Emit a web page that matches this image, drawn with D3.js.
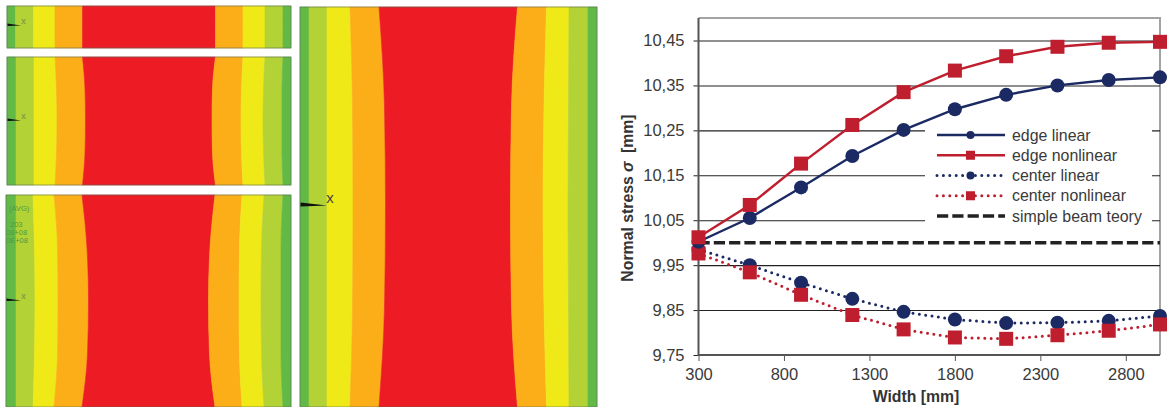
<!DOCTYPE html>
<html><head><meta charset="utf-8">
<script src="https://cdn.jsdelivr.net/npm/d3@7/dist/d3.min.js"></script>
<style>html,body{margin:0;background:#fff;overflow:hidden}svg{display:block}text{font-family:"Liberation Sans",Arial,sans-serif}</style>
</head><body><svg id="c" width="1168" height="407"></svg>
<script>
// chart data
const widths=[300,600,900,1200,1500,1800,2100,2400,2700,3000];
const edgeLinear=[10.002,10.055,10.123,10.193,10.251,10.297,10.329,10.350,10.362,10.368];
const edgeNonlinear=[10.012,10.084,10.176,10.262,10.335,10.383,10.415,10.436,10.445,10.447];
const centerLinear=[9.985,9.950,9.911,9.875,9.846,9.829,9.821,9.822,9.826,9.837];
const centerNonlinear=[9.976,9.934,9.884,9.839,9.807,9.789,9.786,9.794,9.804,9.818];
const beamTheory=[10,10,10,10,10,10,10,10,10,10];
const xTicks=[300,800,1300,1800,2300,2800];
const yTicks=[9.75,9.85,9.95,10.05,10.15,10.25,10.35,10.45];
const legendNames=["edge linear","edge nonlinear","center linear","center nonlinear","simple beam teory"];
// contour panels: band edges across each panel, sampled at five heights
const bandColors=["#62b946","#b2d235","#f0e918","#fbae17","#ed1c24","#fbae17","#f0e918","#b2d235","#62b946"];
const panelA=[[7,15.5,33.5,55,82.5,215.5,243,265,283,291],[7,15.5,33.5,55,82.5,215.5,243,265,283,291],[7,15.5,33.5,55,82.5,215.5,243,265,283,291],[7,15.5,33.5,55,82.5,215.5,243,265,283,291],[7,15.5,33.5,55,82.5,215.5,243,265,283,291]];
const panelB=[[7,16,34,55,82.5,215.5,243,265,283,291],[7,16,34,56.5,85,212.5,241.5,263.5,282,291],[7,16,34,57,85.5,212,241,263,282,291],[7,16,34,56.5,85,212.5,241.5,263.5,282,291],[7,16,34,55,82.5,215.5,243,265,283,291]];
const panelC=[[6,16,33,54,82,215,242,264,283,291],[6,16,34.5,57.5,87,210,239.5,261.5,281,291],[6,16,35,58,88.5,208.5,239,261,281,291],[6,16,34.5,57.5,87.5,209.5,239.5,261.5,281,291],[6,16,33,54,82,215,242,264,283,291]];
const panelD=[[300,309,327,350,379,517.5,546.5,569,588,597],[300,309,327,352.5,384.5,511.5,544,568.5,588,597],[300,309,327,353,385.5,510.5,543,568,588,597],[300,309,327,352.5,384.5,511.5,544,568.5,588,597],[300,309,327,350,379,517.5,546.5,569,588,597]];
const panels=[
 {edges:panelA,y0:6,y1:48,mark:25,lab:"x",big:false,len:14},
 {edges:panelB,y0:57,y1:185,mark:120,lab:"x",big:false,len:14},
 {edges:panelC,y0:195,y1:407,mark:300,lab:"x",big:false,len:15},
 {edges:panelD,y0:7,y1:407,mark:205,lab:"x",big:true,len:27}];
const panelNote=["(AVG)","203","08+08","0E+08"];

const svg=d3.select("#c");
const W={l:698.5,r:1160,t:18,b:355};
const x=d3.scaleLinear().domain([300,3000]).range([W.l,W.r]);
const y=d3.scaleLinear().domain([9.75,10.45]).range([W.b,40.5]);

// contour images
panels.forEach(p=>{
  const g=svg.append("g");
  const ym=d3.scaleLinear().domain([0,4]).range([p.y0,p.y1]);
  const area=d3.area().curve(d3.curveMonotoneY).y(d=>ym(d.i)).x0(d=>d.a).x1(d=>d.b);
  bandColors.forEach((c,k)=>{
    const pts=p.edges.map((e,i)=>({i,a:e[k],b:e[k+1]}));
    g.append("path").attr("d",area(pts)).attr("fill",c).attr("stroke",c).attr("stroke-width",.6);
  });
  g.append("rect").attr("x",p.edges[0][0]).attr("y",p.y0).attr("width",p.edges[0][9]-p.edges[0][0]).attr("height",p.y1-p.y0)
   .attr("fill","none").attr("stroke","#5c6b5c").attr("stroke-width",.8).attr("opacity",.75);
  const x0=p.edges[0][0], th=p.big?2.6:1.5;
  g.append("path").attr("d",`M${x0+.5},${p.mark-th} L${x0+p.len},${p.mark+.5} L${x0+.5},${p.mark+th*.6}Z`).attr("fill","#111");
  g.append("text").attr("x",x0+p.len+(p.big?3:2.5)).attr("y",p.mark+(p.big?-2:-1)).attr("text-anchor","middle")
   .attr("font-size",p.big?15:9).attr("fill",p.big?"#444":"#6f8f4a").text(p.lab);
});
panelNote.forEach((t,i)=>{
  svg.append("text").attr("x",[9,10,6,6][i]).attr("y",[211,226.5,234.5,242.5][i]).attr("font-size",7.5).attr("fill","#4f9a4a").text(t);
});

// plot frame
svg.append("path").attr("d",`M${W.l},${W.t}H${W.r}V${W.b}`).attr("fill","none").attr("stroke","#a3a3a3").attr("stroke-width",2);

// y axis with grid
const fmt=d=>d3.format(".2f")(d).replace(".",",");
const gy=svg.append("g").attr("transform",`translate(${W.l},0)`)
  .call(d3.axisLeft(y).tickValues(yTicks).tickFormat(fmt).tickSize(5).tickPadding(9));
gy.selectAll(".tick").append("line").attr("x1",0).attr("x2",W.r-W.l).attr("stroke","#222").attr("stroke-width",1.1);
gy.selectAll(".tick line").attr("stroke","#222");
gy.selectAll("text").attr("font-size",16.5).attr("fill","#3a3a3a").attr("font-family","Liberation Sans");
gy.select(".domain").remove();
const gx=svg.append("g").attr("transform",`translate(0,${W.b})`)
  .call(d3.axisBottom(x).tickValues(xTicks).tickFormat(d3.format("d")).tickSize(6).tickPadding(7));
gx.selectAll("text").attr("font-size",16.5).attr("fill","#3a3a3a").attr("font-family","Liberation Sans");
gx.selectAll(".tick line").attr("stroke","#555");
gx.select(".domain").remove();
svg.append("path").attr("d",`M${W.l},${W.t}V${W.b}H${W.r}`).attr("fill","none").attr("stroke","#555").attr("stroke-width",2);

// legend backing
svg.append("rect").attr("x",925).attr("y",122).attr("width",227).attr("height",108).attr("fill","#fff");

// series
const navy="#1b2a63",red="#bf1e2e";
const series=[
 {v:edgeLinear,c:navy,kind:"solid",m:"circle"},
 {v:edgeNonlinear,c:red,kind:"solid",m:"square"},
 {v:centerLinear,c:navy,kind:"dot",m:"circle"},
 {v:centerNonlinear,c:red,kind:"dot",m:"square"},
 {v:beamTheory,c:"#222",kind:"dash",m:null}];
const line=d3.line().x((d,i)=>x(widths[i])).y(d=>y(d));
function strokeStyle(sel,s){
  sel.attr("fill","none").attr("stroke",s.c);
  if(s.kind=="solid") sel.attr("stroke-width",2.4);
  if(s.kind=="dot") sel.attr("stroke-width",3).attr("stroke-linecap","round").attr("stroke-dasharray","0 6.4");
  if(s.kind=="dash") sel.attr("stroke-width",3.6).attr("stroke-dasharray","11.2 4.1");
}
function marker(g,s,cx,cy,size){
  if(s.m=="circle") g.append("circle").attr("cx",cx).attr("cy",cy).attr("r",size/2).attr("fill",s.c);
  if(s.m=="square") g.append("rect").attr("x",cx-size/2).attr("y",cy-size/2).attr("width",size).attr("height",size).attr("fill",s.c);
}
svg.append("path").attr("d",line(series[4].v)).call(strokeStyle,series[4]);
[2,3,0,1].forEach(k=>{
  const s=series[k],g=svg.append("g");
  g.append("path").attr("d",line(s.v)).call(strokeStyle,s);
  s.v.forEach((d,i)=>marker(g,s,x(widths[i]),y(d),14));
});

// legend
const legendY=d3.scalePoint().domain(legendNames).range([135,216]);
legendNames.forEach((n,k)=>{
  const s=series[k],ly=legendY(n),g=svg.append("g");
  g.append("line").attr("x1",937).attr("x2",1005).attr("y1",ly).attr("y2",ly).call(strokeStyle,s);
  marker(g,s,970.5,ly,s.m=="circle"?8:9);
  g.append("text").attr("x",1012).attr("y",ly+5.5).attr("font-size",15.9).attr("fill","#3a3a3a").text(n);
});

// axis titles
svg.append("text").attr("x",916).attr("y",402).attr("text-anchor","middle").attr("font-size",15.8).attr("font-weight","bold").attr("fill","#333").text("Width [mm]");
const yt=svg.append("text").attr("transform","translate(633,198) rotate(-90)").attr("text-anchor","middle").attr("font-size",15.8).attr("font-weight","bold").attr("fill","#333");
yt.append("tspan").text("Normal stress ");
yt.append("tspan").attr("font-style","italic").text("σ");
yt.append("tspan").attr("dx",4).text(" [mm]");
</script></body></html>
